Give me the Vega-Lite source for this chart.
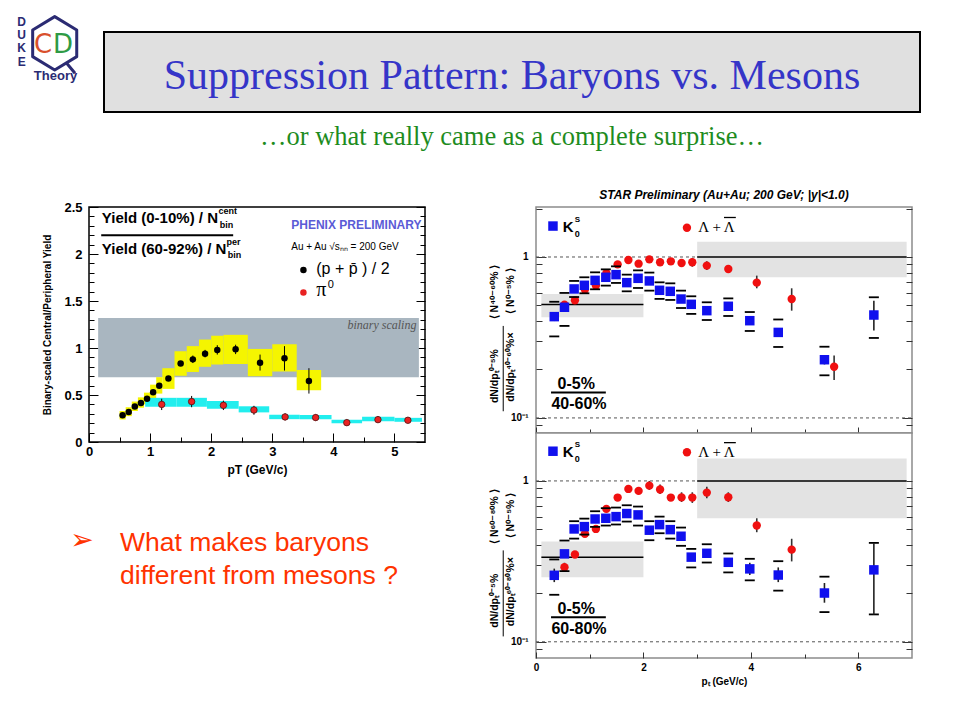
{
"$schema": "https://vega.github.io/schema/vega-lite/v6.json",
"padding": {"left": 15, "top": 15, "right": 0, "bottom": 0},
"background": "white",
"config": {
  "view": {"stroke": null},
  "font": "Liberation Sans",
  "text": {"font": "Liberation Sans"},
  "axis": {"grid": false, "domain": false, "labelFont": "Liberation Sans", "titleFont": "Liberation Sans", "labelColor": "black", "titleColor": "black", "tickColor": "black", "labelFlush": false, "labelOverlap": false, "labelFontWeight": "bold", "titleFontWeight": "bold"}
},
"datasets": {
  "phenixP": [
    {"pt":0.55,"v":0.285,"elo":0.275,"ehi":0.295,"x1":0.5,"x2":0.6,"lo":0.24,"hi":0.33},
    {"pt":0.65,"v":0.32,"elo":0.31,"ehi":0.33,"x1":0.6,"x2":0.7,"lo":0.275,"hi":0.37},
    {"pt":0.75,"v":0.377,"elo":0.367,"ehi":0.387,"x1":0.7,"x2":0.8,"lo":0.33,"hi":0.43},
    {"pt":0.85,"v":0.416,"elo":0.405,"ehi":0.427,"x1":0.8,"x2":0.9,"lo":0.365,"hi":0.475},
    {"pt":0.95,"v":0.459,"elo":0.447,"ehi":0.471,"x1":0.9,"x2":1.0,"lo":0.4,"hi":0.525},
    {"pt":1.05,"v":0.53,"elo":0.517,"ehi":0.543,"x1":1.0,"x2":1.1,"lo":0.46,"hi":0.61},
    {"pt":1.15,"v":0.598,"elo":0.583,"ehi":0.613,"x1":1.1,"x2":1.2,"lo":0.515,"hi":0.69},
    {"pt":1.3,"v":0.676,"elo":0.66,"ehi":0.692,"x1":1.2,"x2":1.4,"lo":0.565,"hi":0.785},
    {"pt":1.5,"v":0.836,"elo":0.815,"ehi":0.857,"x1":1.4,"x2":1.6,"lo":0.705,"hi":0.965},
    {"pt":1.7,"v":0.879,"elo":0.84,"ehi":0.92,"x1":1.6,"x2":1.8,"lo":0.745,"hi":1.02},
    {"pt":1.9,"v":0.94,"elo":0.9,"ehi":0.98,"x1":1.8,"x2":2.0,"lo":0.8,"hi":1.09},
    {"pt":2.1,"v":0.979,"elo":0.93,"ehi":1.03,"x1":2.0,"x2":2.2,"lo":0.825,"hi":1.13},
    {"pt":2.4,"v":0.986,"elo":0.935,"ehi":1.035,"x1":2.2,"x2":2.6,"lo":0.83,"hi":1.14},
    {"pt":2.8,"v":0.843,"elo":0.76,"ehi":0.93,"x1":2.6,"x2":3.0,"lo":0.7,"hi":0.99},
    {"pt":3.2,"v":0.89,"elo":0.76,"ehi":1.02,"x1":3.0,"x2":3.4,"lo":0.75,"hi":1.04},
    {"pt":3.6,"v":0.65,"elo":0.515,"ehi":0.785,"x1":3.4,"x2":3.8,"lo":0.55,"hi":0.765}
  ],
  "phenixPi": [
    {"pt":1.19,"v":0.40,"elo":0.34,"ehi":0.46,"x1":0.92,"x2":1.43,"lo":0.375,"hi":0.47},
    {"pt":1.68,"v":0.43,"elo":0.37,"ehi":0.49,"x1":1.43,"x2":1.93,"lo":0.375,"hi":0.47},
    {"pt":2.2,"v":0.39,"elo":0.34,"ehi":0.44,"x1":1.93,"x2":2.45,"lo":0.355,"hi":0.435},
    {"pt":2.7,"v":0.34,"elo":0.29,"ehi":0.385,"x1":2.45,"x2":2.95,"lo":0.315,"hi":0.38},
    {"pt":3.21,"v":0.267,"elo":0.23,"ehi":0.305,"x1":2.95,"x2":3.45,"lo":0.243,"hi":0.29},
    {"pt":3.71,"v":0.26,"elo":0.225,"ehi":0.295,"x1":3.45,"x2":3.97,"lo":0.243,"hi":0.287},
    {"pt":4.22,"v":0.206,"elo":0.175,"ehi":0.24,"x1":3.97,"x2":4.47,"lo":0.2,"hi":0.236},
    {"pt":4.73,"v":0.238,"elo":0.205,"ehi":0.275,"x1":4.47,"x2":5.0,"lo":0.22,"hi":0.268},
    {"pt":5.22,"v":0.231,"elo":0.2,"ehi":0.265,"x1":5.0,"x2":5.45,"lo":0.215,"hi":0.257}
  ],
  "starBand": [
    {"panel":"top","x1":0.1,"x2":2.0,"lo":0.422,"hi":0.589,"mid":0.506},
    {"panel":"top","x1":3.0,"x2":6.9,"lo":0.748,"hi":1.245,"mid":1.0},
    {"panel":"bottom","x1":0.1,"x2":2.0,"lo":0.252,"hi":0.42,"mid":0.336},
    {"panel":"bottom","x1":3.0,"x2":6.9,"lo":0.586,"hi":1.38,"mid":1.0}
  ],
  "starDash": [
    {"x1":0,"x2":3,"y":1},
    {"x1":0,"x2":7,"y":0.1}
  ],
  "starK": [
    {"panel":"top","pt":0.34,"v":0.426,"lo":0.321,"hi":0.527,"elo":0.4,"ehi":0.45},
    {"panel":"top","pt":0.53,"v":0.487,"lo":0.373,"hi":0.598},
    {"panel":"top","pt":0.71,"v":0.633,"lo":0.564,"hi":0.71},
    {"panel":"top","pt":0.9,"v":0.667,"lo":0.595,"hi":0.748},
    {"panel":"top","pt":1.1,"v":0.716,"lo":0.63,"hi":0.803},
    {"panel":"top","pt":1.3,"v":0.748,"lo":0.664,"hi":0.838},
    {"panel":"top","pt":1.49,"v":0.777,"lo":0.69,"hi":0.875},
    {"panel":"top","pt":1.69,"v":0.693,"lo":0.612,"hi":0.777},
    {"panel":"top","pt":1.9,"v":0.737,"lo":0.642,"hi":0.826},
    {"panel":"top","pt":2.11,"v":0.71,"lo":0.618,"hi":0.8},
    {"panel":"top","pt":2.3,"v":0.621,"lo":0.549,"hi":0.696},
    {"panel":"top","pt":2.5,"v":0.612,"lo":0.541,"hi":0.686},
    {"panel":"top","pt":2.7,"v":0.548,"lo":0.482,"hi":0.618},
    {"panel":"top","pt":2.89,"v":0.508,"lo":0.443,"hi":0.57},
    {"panel":"top","pt":3.18,"v":0.464,"lo":0.406,"hi":0.523},
    {"panel":"top","pt":3.58,"v":0.494,"lo":0.43,"hi":0.553},
    {"panel":"top","pt":3.98,"v":0.402,"lo":0.347,"hi":0.455},
    {"panel":"top","pt":4.51,"v":0.34,"lo":0.276,"hi":0.409},
    {"panel":"top","pt":5.37,"v":0.23,"lo":0.184,"hi":0.277,"elo":0.215,"ehi":0.245},
    {"panel":"top","pt":6.29,"v":0.436,"lo":0.314,"hi":0.562,"elo":0.349,"ehi":0.535},
    {"panel":"bottom","pt":0.34,"v":0.259,"lo":0.196,"hi":0.325,"elo":0.235,"ehi":0.285},
    {"panel":"bottom","pt":0.53,"v":0.352,"lo":0.275,"hi":0.426},
    {"panel":"bottom","pt":0.71,"v":0.503,"lo":0.438,"hi":0.562},
    {"panel":"bottom","pt":0.9,"v":0.52,"lo":0.464,"hi":0.583},
    {"panel":"bottom","pt":1.1,"v":0.58,"lo":0.518,"hi":0.648},
    {"panel":"bottom","pt":1.3,"v":0.586,"lo":0.528,"hi":0.677},
    {"panel":"bottom","pt":1.49,"v":0.6,"lo":0.536,"hi":0.683},
    {"panel":"bottom","pt":1.69,"v":0.627,"lo":0.559,"hi":0.706},
    {"panel":"bottom","pt":1.9,"v":0.615,"lo":0.528,"hi":0.693},
    {"panel":"bottom","pt":2.11,"v":0.494,"lo":0.428,"hi":0.562},
    {"panel":"bottom","pt":2.3,"v":0.535,"lo":0.473,"hi":0.6},
    {"panel":"bottom","pt":2.5,"v":0.498,"lo":0.438,"hi":0.562},
    {"panel":"bottom","pt":2.7,"v":0.453,"lo":0.395,"hi":0.513},
    {"panel":"bottom","pt":2.89,"v":0.336,"lo":0.29,"hi":0.378},
    {"panel":"bottom","pt":3.18,"v":0.355,"lo":0.311,"hi":0.404},
    {"panel":"bottom","pt":3.58,"v":0.312,"lo":0.27,"hi":0.354},
    {"panel":"bottom","pt":3.98,"v":0.284,"lo":0.241,"hi":0.328,"elo":0.26,"ehi":0.31},
    {"panel":"bottom","pt":4.51,"v":0.26,"lo":0.208,"hi":0.317,"elo":0.235,"ehi":0.29},
    {"panel":"bottom","pt":5.37,"v":0.201,"lo":0.153,"hi":0.254,"elo":0.175,"ehi":0.232},
    {"panel":"bottom","pt":6.29,"v":0.28,"lo":0.148,"hi":0.412,"elo":0.148,"ehi":0.412}
  ],
  "starL": [
    {"panel":"top","pt":0.53,"v":0.505},
    {"panel":"top","pt":0.725,"v":0.538},
    {"panel":"top","pt":0.91,"v":0.627},
    {"panel":"top","pt":1.115,"v":0.664},
    {"panel":"top","pt":1.31,"v":0.792},
    {"panel":"top","pt":1.52,"v":0.9},
    {"panel":"top","pt":1.72,"v":0.958},
    {"panel":"top","pt":1.91,"v":0.909},
    {"panel":"top","pt":2.11,"v":0.967},
    {"panel":"top","pt":2.31,"v":0.927},
    {"panel":"top","pt":2.51,"v":0.94},
    {"panel":"top","pt":2.71,"v":0.918},
    {"panel":"top","pt":2.91,"v":0.927,"elo":0.87,"ehi":0.985},
    {"panel":"top","pt":3.18,"v":0.884,"elo":0.83,"ehi":0.94},
    {"panel":"top","pt":3.58,"v":0.842},
    {"panel":"top","pt":4.11,"v":0.693,"elo":0.639,"ehi":0.766},
    {"panel":"top","pt":4.76,"v":0.548,"elo":0.464,"ehi":0.639},
    {"panel":"top","pt":5.55,"v":0.208,"elo":0.172,"ehi":0.244},
    {"panel":"bottom","pt":0.53,"v":0.291,"elo":0.275,"ehi":0.31},
    {"panel":"bottom","pt":0.725,"v":0.349},
    {"panel":"bottom","pt":0.91,"v":0.469},
    {"panel":"bottom","pt":1.115,"v":0.503},
    {"panel":"bottom","pt":1.31,"v":0.67},
    {"panel":"bottom","pt":1.52,"v":0.788},
    {"panel":"bottom","pt":1.72,"v":0.892},
    {"panel":"bottom","pt":1.91,"v":0.867,"elo":0.83,"ehi":0.9},
    {"panel":"bottom","pt":2.11,"v":0.935,"elo":0.88,"ehi":1.0},
    {"panel":"bottom","pt":2.31,"v":0.884,"elo":0.83,"ehi":0.95},
    {"panel":"bottom","pt":2.51,"v":0.788},
    {"panel":"bottom","pt":2.71,"v":0.79,"elo":0.74,"ehi":0.85},
    {"panel":"bottom","pt":2.91,"v":0.788,"elo":0.73,"ehi":0.85},
    {"panel":"bottom","pt":3.18,"v":0.846,"elo":0.78,"ehi":0.92},
    {"panel":"bottom","pt":3.58,"v":0.792,"elo":0.74,"ehi":0.85},
    {"panel":"bottom","pt":4.11,"v":0.528,"elo":0.48,"ehi":0.586},
    {"panel":"bottom","pt":4.76,"v":0.374,"elo":0.316,"ehi":0.437}
  ]
},
"spacing": 20,
"vconcat": [
 {"spacing": 23, "hconcat": [
  {"width":65,"height":97,"data":{"values":[{}]},"layer":[
    {"mark":{"type":"point","shape":"M0,-1L0.825,-0.5L0.825,0.5L0,1L-0.825,0.5L-0.825,-0.5Z M0.45,0.75L0.76,1.12","size":2852,"filled":false,"stroke":"#2b2b73","strokeWidth":3,"strokeJoin":"round","opacity":1,"xOffset":7.2,"yOffset":-20.2},"encoding":{}},
    {"mark":{"type":"text","text":"C","font":"DejaVu Sans","fontSize":26,"color":"#d9502c","align":"center","baseline":"middle","dx":-4.5,"dy":-19},"encoding":{}},
    {"mark":{"type":"text","text":"D","font":"DejaVu Sans","fontSize":26,"color":"#2e9a45","align":"center","baseline":"middle","dx":15.5,"dy":-19},"encoding":{}},
    {"mark":{"type":"text","text":["D","U","K","E"],"fontSize":12,"fontWeight":"bold","lineHeight":13.4,"color":"#2b2b73","align":"center","baseline":"top","dx":-25.8,"dy":-47},"encoding":{}},
    {"mark":{"type":"text","text":"Theory","fontSize":13,"fontWeight":"bold","color":"#2b2b73","align":"center","baseline":"middle","dx":8,"dy":12},"encoding":{}}
  ]},
  {"spacing": 0, "bounds": "flush", "vconcat": [
    {"width":816,"height":17,"data":{"values":[{}]},"mark":"text","encoding":{"text":{"value":""}}},
    {"width":816,"height":80,"view":{"fill":"#e0e0e0","stroke":"black","strokeWidth":2},"data":{"values":[{}]},
     "mark":{"type":"text","font":"Liberation Serif","fontSize":42,"color":"#3535c8","align":"center","baseline":"alphabetic","dy":17},
     "encoding":{"text":{"value":"Suppression Pattern: Baryons vs. Mesons"}}},
    {"width":816,"height":50,"data":{"values":[{}]},
     "mark":{"type":"text","font":"Liberation Serif","fontSize":26.5,"color":"#1e8c1e","align":"center","baseline":"middle"},
     "encoding":{"text":{"value":"…or what really came as a complete surprise…"}}}
  ]}
 ]},
 {"spacing": 0, "hconcat": [
  {"width":27,"height":1,"data":{"values":[{}]},"mark":"text","encoding":{"text":{"value":""}}},
  {"spacing": 62, "hconcat": [
   {"spacing": 82, "bounds": "flush", "vconcat": [
    {"width":336,"height":235,"view":{"stroke":"black","strokeWidth":1.5,"fill":"white"},
     "title":{"text":" ","fontSize":12,"fontWeight":"bold","fontStyle":"italic","font":"Liberation Sans","offset":5},
     "resolve":{"axis":{"x":"independent","y":"independent"}},
     "layer":[
      {"data":{"values":[{"x1":0.15,"x2":5.4,"lo":0.69,"hi":1.32}]},
       "mark":{"type":"rect","color":"#a9b6c0"},
       "encoding":{
         "x":{"field":"x1","type":"quantitative","scale":{"domain":[0,5.5],"nice":false,"zero":false},
              "axis":{"orient":"bottom","values":[0,1,2,3,4,5],"tickSize":-9,"labelPadding":12,"labelFontSize":13,"title":"pT (GeV/c)","titleFontSize":12,"titlePadding":6}},
         "x2":{"field":"x2"},
         "y":{"field":"lo","type":"quantitative","scale":{"domain":[0,2.5],"nice":false,"zero":false},
              "axis":{"orient":"left","values":[0,0.5,1,1.5,2,2.5],"format":"~g","tickSize":-9,"labelPadding":16,"labelFontSize":13,"title":"Binary-scaled Central/Peripheral Yield","titleFontSize":10,"titlePadding":11}},
         "y2":{"field":"hi"}}},
      {"data":{"name":"phenixP"},"mark":{"type":"rect","color":"#f5f500"},
       "encoding":{
         "x":{"field":"x1","type":"quantitative","axis":{"orient":"bottom","values":[0.5,1.5,2.5,3.5,4.5],"tickSize":-5,"labels":false,"title":null}},
         "x2":{"field":"x2"},
         "y":{"field":"lo","type":"quantitative","axis":{"orient":"left","values":[0.1,0.2,0.3,0.4,0.6,0.7,0.8,0.9,1.1,1.2,1.3,1.4,1.6,1.7,1.8,1.9,2.1,2.2,2.3,2.4],"tickSize":-5,"labels":false,"title":null}},
         "y2":{"field":"hi"}}},
      {"data":{"name":"phenixPi"},"mark":{"type":"rect","color":"#22eeee"},
       "encoding":{
         "x":{"field":"x1","type":"quantitative","axis":null},
         "x2":{"field":"x2"},
         "y":{"field":"lo","type":"quantitative","axis":{"orient":"right","values":[0,0.5,1,1.5,2,2.5],"tickSize":-9,"labels":false,"title":null}},
         "y2":{"field":"hi"}}},
      {"data":{"values":[{}]},"mark":{"type":"text","text":"binary scaling","font":"Liberation Serif","fontStyle":"italic","fontSize":12,"color":"#555555","align":"right","baseline":"alphabetic"},
       "encoding":{"x":{"datum":5.36,"type":"quantitative","axis":null},"y":{"datum":1.2,"type":"quantitative","axis":null}}},
      {"data":{"name":"phenixP"},"mark":{"type":"rule","color":"black","strokeWidth":1},
       "encoding":{
         "x":{"field":"pt","type":"quantitative","axis":null},
         "y":{"field":"elo","type":"quantitative","axis":{"orient":"right","values":[0.1,0.2,0.3,0.4,0.6,0.7,0.8,0.9,1.1,1.2,1.3,1.4,1.6,1.7,1.8,1.9,2.1,2.2,2.3,2.4],"tickSize":-5,"labels":false,"title":null}},
         "y2":{"field":"ehi"}}},
      {"data":{"name":"phenixPi"},"mark":{"type":"rule","color":"black","strokeWidth":1},
       "encoding":{
         "x":{"field":"pt","type":"quantitative","axis":null},
         "y":{"field":"elo","type":"quantitative","axis":null},
         "y2":{"field":"ehi"}}},
      {"data":{"name":"phenixP"},"mark":{"type":"circle","size":42,"color":"black","opacity":1},
       "encoding":{"x":{"field":"pt","type":"quantitative","axis":null},"y":{"field":"v","type":"quantitative","axis":null}}},
      {"data":{"name":"phenixPi"},"mark":{"type":"circle","size":42,"color":"#e82222","stroke":"#551111","strokeWidth":0.8,"opacity":1},
       "encoding":{"x":{"field":"pt","type":"quantitative","axis":null},"y":{"field":"v","type":"quantitative","axis":null}}},
      {"data":{"values":[{}]},"mark":{"type":"text","text":"Yield (0-10%) / N","fontWeight":"bold","fontSize":15,"align":"left","baseline":"alphabetic"},
       "encoding":{"x":{"datum":0.21,"type":"quantitative","axis":null},"y":{"datum":2.33,"type":"quantitative","axis":null}}},
      {"data":{"values":[{}]},"mark":{"type":"text","text":"cent","fontWeight":"bold","fontSize":9,"align":"left","baseline":"alphabetic"},
       "encoding":{"x":{"datum":2.12,"type":"quantitative","axis":null},"y":{"datum":2.43,"type":"quantitative","axis":null}}},
      {"data":{"values":[{}]},"mark":{"type":"text","text":"bin","fontWeight":"bold","fontSize":9,"align":"left","baseline":"alphabetic"},
       "encoding":{"x":{"datum":2.14,"type":"quantitative","axis":null},"y":{"datum":2.28,"type":"quantitative","axis":null}}},
      {"data":{"values":[{}]},"mark":{"type":"rule","color":"black","strokeWidth":2},
       "encoding":{"x":{"datum":0.2,"type":"quantitative","axis":null},"x2":{"datum":2.36},"y":{"datum":2.2,"type":"quantitative","axis":null}}},
      {"data":{"values":[{}]},"mark":{"type":"text","text":"Yield (60-92%) / N","fontWeight":"bold","fontSize":15,"align":"left","baseline":"alphabetic"},
       "encoding":{"x":{"datum":0.21,"type":"quantitative","axis":null},"y":{"datum":2.0,"type":"quantitative","axis":null}}},
      {"data":{"values":[{}]},"mark":{"type":"text","text":"per","fontWeight":"bold","fontSize":9,"align":"left","baseline":"alphabetic"},
       "encoding":{"x":{"datum":2.25,"type":"quantitative","axis":null},"y":{"datum":2.1,"type":"quantitative","axis":null}}},
      {"data":{"values":[{}]},"mark":{"type":"text","text":"bin","fontWeight":"bold","fontSize":9,"align":"left","baseline":"alphabetic"},
       "encoding":{"x":{"datum":2.27,"type":"quantitative","axis":null},"y":{"datum":1.96,"type":"quantitative","axis":null}}},
      {"data":{"values":[{}]},"mark":{"type":"text","text":"PHENIX PRELIMINARY","fontWeight":"bold","fontSize":12,"color":"#5b5bd6","align":"left","baseline":"alphabetic"},
       "encoding":{"x":{"datum":3.31,"type":"quantitative","axis":null},"y":{"datum":2.27,"type":"quantitative","axis":null}}},
      {"data":{"values":[{}]},"mark":{"type":"text","text":"Au + Au   √sₙₙ = 200 GeV","fontSize":10,"align":"left","baseline":"alphabetic"},
       "encoding":{"x":{"datum":3.31,"type":"quantitative","axis":null},"y":{"datum":2.04,"type":"quantitative","axis":null}}},
      {"data":{"values":[{}]},"mark":{"type":"circle","size":42,"color":"black","opacity":1},
       "encoding":{"x":{"datum":3.51,"type":"quantitative","axis":null},"y":{"datum":1.83,"type":"quantitative","axis":null}}},
      {"data":{"values":[{}]},"mark":{"type":"text","text":"(p + p̄ ) / 2","fontSize":16,"align":"left","baseline":"alphabetic"},
       "encoding":{"x":{"datum":3.72,"type":"quantitative","axis":null},"y":{"datum":1.79,"type":"quantitative","axis":null}}},
      {"data":{"values":[{}]},"mark":{"type":"circle","size":42,"color":"#e82222","opacity":1},
       "encoding":{"x":{"datum":3.51,"type":"quantitative","axis":null},"y":{"datum":1.59,"type":"quantitative","axis":null}}},
      {"data":{"values":[{}]},"mark":{"type":"text","text":"π","font":"Liberation Serif","fontSize":20,"align":"left","baseline":"alphabetic"},
       "encoding":{"x":{"datum":3.72,"type":"quantitative","axis":null},"y":{"datum":1.55,"type":"quantitative","axis":null}}},
      {"data":{"values":[{}]},"mark":{"type":"text","text":"0","fontSize":11,"align":"left","baseline":"alphabetic"},
       "encoding":{"x":{"datum":3.91,"type":"quantitative","axis":null},"y":{"datum":1.64,"type":"quantitative","axis":null}}}
     ]},
    {"width":62,"height":70,"data":{"values":[{}]},"layer":[
      {"mark":{"type":"text","text":"➢","font":"DejaVu Sans","fontSize":28,"color":"#ff3300","align":"center","baseline":"middle","dx":-38,"dy":-18},"encoding":{}},
      {"mark":{"type":"text","text":["What makes baryons","different from mesons ?"],"fontSize":26.5,"lineHeight":33,"color":"#ff3300","align":"left","baseline":"alphabetic","dy":-8},"encoding":{}}
    ]}
   ]},
   {"spacing": 0, "bounds": "flush", "vconcat": [
    {"width":376,"height":226,"view":{"stroke":"#8c8c8c","strokeWidth":1.5,"fill":"white"},
     "title":{"text":"STAR Preliminary (Au+Au; 200 GeV; |y|<1.0)","fontSize":12,"fontWeight":"bold","fontStyle":"italic","font":"Liberation Sans","offset":5,"color":"black"},
     "resolve":{"axis":{"x":"independent","y":"independent"}},
     "layer":[
      {"data":{"name":"starBand"},"transform":[{"filter":"datum.panel == 'top'"}],"mark":{"type":"rect","color":"#e3e3e3"},
       "encoding":{
         "x":{"field":"x1","type":"quantitative","scale":{"domain":[0,7],"nice":false,"zero":false},"axis":{"orient":"bottom","values":[0,2,4,6],"tickSize":-6,"labels":false,"title":null,"tickColor":"#333333"}},
         "x2":{"field":"x2"},
         "y":{"field":"lo","type":"quantitative","scale":{"type":"log","domain":[0.0806,2.045],"nice":false},"axis":{"orient":"left","values":[0.1,1],"tickSize":-10,"labelPadding":18,"labelFontSize":10,"labelExpr":"datum.value >= 1 ? '1' : '10⁻¹'","title":null,"tickColor":"#333333"}},
         "y2":{"field":"hi"}}},
      {"data":{"name":"starBand"},"transform":[{"filter":"datum.panel == 'top'"}],"mark":{"type":"rule","color":"black","strokeWidth":1.5},
       "encoding":{
         "x":{"field":"x1","type":"quantitative","axis":{"orient":"bottom","values":[1,3,5],"tickSize":-4,"labels":false,"title":null,"tickColor":"#333333"}},
         "x2":{"field":"x2"},
         "y":{"field":"mid","type":"quantitative","axis":{"orient":"left","values":[0.09,0.2,0.3,0.4,0.5,0.6,0.7,0.8,0.9,2],"tickSize":-6,"labels":false,"title":null,"tickColor":"#333333"}}}},
      {"data":{"name":"starDash"},"mark":{"type":"rule","color":"#555555","strokeWidth":1,"strokeDash":[3,3]},
       "encoding":{
         "x":{"field":"x1","type":"quantitative","axis":null},
         "x2":{"field":"x2"},
         "y":{"field":"y","type":"quantitative","axis":{"orient":"right","values":[0.1,1],"tickSize":-10,"labels":false,"title":null,"tickColor":"#333333"}}}},
      {"data":{"name":"starL"},"transform":[{"filter":"datum.panel == 'top' && isValid(datum.elo)"}],"mark":{"type":"rule","color":"#333333","strokeWidth":1.6},
       "encoding":{
         "x":{"field":"pt","type":"quantitative","axis":null},
         "y":{"field":"elo","type":"quantitative","axis":{"orient":"right","values":[0.09,0.2,0.3,0.4,0.5,0.6,0.7,0.8,0.9,2],"tickSize":-6,"labels":false,"title":null,"tickColor":"#333333"}},
         "y2":{"field":"ehi"}}},
      {"data":{"name":"starL"},"transform":[{"filter":"datum.panel == 'top'"}],"mark":{"type":"circle","size":70,"color":"#f01010","opacity":1},
       "encoding":{"x":{"field":"pt","type":"quantitative","axis":null},"y":{"field":"v","type":"quantitative","axis":null}}},
      {"data":{"name":"starK"},"transform":[{"filter":"datum.panel == 'top'"}],"mark":{"type":"tick","orient":"horizontal","size":10,"thickness":1.8,"color":"black","opacity":1},
       "encoding":{"x":{"field":"pt","type":"quantitative","axis":null},"y":{"field":"lo","type":"quantitative","axis":null}}},
      {"data":{"name":"starK"},"transform":[{"filter":"datum.panel == 'top'"}],"mark":{"type":"tick","orient":"horizontal","size":10,"thickness":1.8,"color":"black","opacity":1},
       "encoding":{"x":{"field":"pt","type":"quantitative","axis":null},"y":{"field":"hi","type":"quantitative","axis":null}}},
      {"data":{"name":"starK"},"transform":[{"filter":"datum.panel == 'top' && isValid(datum.elo)"}],"mark":{"type":"rule","color":"#222222","strokeWidth":1.6},
       "encoding":{"x":{"field":"pt","type":"quantitative","axis":null},"y":{"field":"elo","type":"quantitative","axis":null},"y2":{"field":"ehi"}}},
      {"data":{"name":"starK"},"transform":[{"filter":"datum.panel == 'top'"}],"mark":{"type":"square","size":90,"color":"#1010ee","opacity":1},
       "encoding":{"x":{"field":"pt","type":"quantitative","axis":null},"y":{"field":"v","type":"quantitative","axis":null}}},
      {"data":{"values":[{}]},"mark":{"type":"square","size":90,"color":"#1010ee","opacity":1},
       "encoding":{"x":{"datum":0.316,"type":"quantitative","axis":null},"y":{"datum":1.557,"type":"quantitative","axis":null}}},
      {"data":{"values":[{}]},"mark":{"type":"text","text":"K","fontWeight":"bold","fontSize":15,"align":"left","baseline":"alphabetic"},
       "encoding":{"x":{"datum":0.5,"type":"quantitative","axis":null},"y":{"datum":1.43,"type":"quantitative","axis":null}}},
      {"data":{"values":[{}]},"mark":{"type":"text","text":"S","fontWeight":"bold","fontSize":8,"align":"left","baseline":"alphabetic"},
       "encoding":{"x":{"datum":0.72,"type":"quantitative","axis":null},"y":{"datum":1.65,"type":"quantitative","axis":null}}},
      {"data":{"values":[{}]},"mark":{"type":"text","text":"0","fontWeight":"bold","fontSize":9,"align":"left","baseline":"alphabetic"},
       "encoding":{"x":{"datum":0.72,"type":"quantitative","axis":null},"y":{"datum":1.34,"type":"quantitative","axis":null}}},
      {"data":{"values":[{}]},"mark":{"type":"circle","size":70,"color":"#f01010","opacity":1},
       "encoding":{"x":{"datum":2.81,"type":"quantitative","axis":null},"y":{"datum":1.52,"type":"quantitative","axis":null}}},
      {"data":{"values":[{}]},"mark":{"type":"text","text":"Λ + Λ","font":"Liberation Serif","fontSize":15,"align":"left","baseline":"alphabetic"},
       "encoding":{"x":{"datum":3.02,"type":"quantitative","axis":null},"y":{"datum":1.43,"type":"quantitative","axis":null}}},
      {"data":{"values":[{}]},"mark":{"type":"rule","color":"black","strokeWidth":1.3},
       "encoding":{"x":{"datum":3.5,"type":"quantitative","axis":null},"x2":{"datum":3.72},"y":{"datum":1.76,"type":"quantitative","axis":null}}},
      {"data":{"values":[{}]},"mark":{"type":"text","text":"0-5%","fontWeight":"bold","fontSize":16,"align":"center","baseline":"alphabetic"},
       "encoding":{"x":{"datum":0.75,"type":"quantitative","axis":null},"y":{"datum":0.151,"type":"quantitative","axis":null}}},
      {"data":{"values":[{}]},"mark":{"type":"rule","color":"black","strokeWidth":2},
       "encoding":{"x":{"datum":0.28,"type":"quantitative","axis":null},"x2":{"datum":1.3},"y":{"datum":0.144,"type":"quantitative","axis":null}}},
      {"data":{"values":[{}]},"mark":{"type":"text","text":"40-60%","fontWeight":"bold","fontSize":16,"align":"center","baseline":"alphabetic"},
       "encoding":{"x":{"datum":0.8,"type":"quantitative","axis":null},"y":{"datum":0.1137,"type":"quantitative","axis":null}}},
      {"data":{"values":[{}]},"mark":{"type":"text","text":"dN/dpₜ⁰⁻⁵%","fontWeight":"bold","fontSize":10.5,"angle":270,"align":"center","baseline":"middle"},
       "encoding":{"x":{"datum":-0.76,"type":"quantitative","axis":null},"y":{"datum":0.182,"type":"quantitative","axis":null}}},
      {"data":{"values":[{}]},"mark":{"type":"text","text":"dN/dpₜ⁴⁰⁻⁶⁰%×","fontWeight":"bold","fontSize":10.5,"angle":270,"align":"center","baseline":"middle"},
       "encoding":{"x":{"datum":-0.465,"type":"quantitative","axis":null},"y":{"datum":0.207,"type":"quantitative","axis":null}}},
      {"data":{"values":[{}]},"mark":{"type":"rule","color":"black","strokeWidth":1},
       "encoding":{"x":{"datum":-0.61,"type":"quantitative","axis":null},"y":{"datum":0.11,"type":"quantitative","axis":null},"y2":{"datum":0.373}}},
      {"data":{"values":[{}]},"mark":{"type":"text","text":"⟨ N⁴⁰⁻⁶⁰% ⟩","fontWeight":"bold","fontSize":10.5,"angle":270,"align":"center","baseline":"middle"},
       "encoding":{"x":{"datum":-0.76,"type":"quantitative","axis":null},"y":{"datum":0.606,"type":"quantitative","axis":null}}},
      {"data":{"values":[{}]},"mark":{"type":"text","text":"⟨ N⁰⁻⁵% ⟩","fontWeight":"bold","fontSize":10.5,"angle":270,"align":"center","baseline":"middle"},
       "encoding":{"x":{"datum":-0.465,"type":"quantitative","axis":null},"y":{"datum":0.615,"type":"quantitative","axis":null}}}
     ]},
    {"width":376,"height":225,"view":{"stroke":"#8c8c8c","strokeWidth":1.5,"fill":"white"},
     "resolve":{"axis":{"x":"independent","y":"independent"}},
     "layer":[
      {"data":{"name":"starBand"},"transform":[{"filter":"datum.panel == 'bottom'"}],"mark":{"type":"rect","color":"#e3e3e3"},
       "encoding":{
         "x":{"field":"x1","type":"quantitative","scale":{"domain":[0,7],"nice":false,"zero":false},"axis":{"orient":"bottom","values":[0,2,4,6],"tickSize":-6,"labelPadding":10,"labelFontSize":10,"title":"pₜ (GeV/c)","titleFontSize":10,"titlePadding":4,"tickColor":"#333333"}},
         "x2":{"field":"x2"},
         "y":{"field":"lo","type":"quantitative","scale":{"type":"log","domain":[0.0793,1.986],"nice":false},"axis":{"orient":"left","values":[0.1,1],"tickSize":-10,"labelPadding":18,"labelFontSize":10,"labelExpr":"datum.value >= 1 ? '1' : '10⁻¹'","title":null,"tickColor":"#333333"}},
         "y2":{"field":"hi"}}},
      {"data":{"name":"starBand"},"transform":[{"filter":"datum.panel == 'bottom'"}],"mark":{"type":"rule","color":"black","strokeWidth":1.5},
       "encoding":{
         "x":{"field":"x1","type":"quantitative","axis":{"orient":"bottom","values":[1,3,5],"tickSize":-4,"labels":false,"title":null,"tickColor":"#333333"}},
         "x2":{"field":"x2"},
         "y":{"field":"mid","type":"quantitative","axis":{"orient":"left","values":[0.09,0.2,0.3,0.4,0.5,0.6,0.7,0.8,0.9],"tickSize":-6,"labels":false,"title":null,"tickColor":"#333333"}}}},
      {"data":{"name":"starDash"},"mark":{"type":"rule","color":"#555555","strokeWidth":1,"strokeDash":[3,3]},
       "encoding":{
         "x":{"field":"x1","type":"quantitative","axis":null},
         "x2":{"field":"x2"},
         "y":{"field":"y","type":"quantitative","axis":{"orient":"right","values":[0.1,1],"tickSize":-10,"labels":false,"title":null,"tickColor":"#333333"}}}},
      {"data":{"name":"starL"},"transform":[{"filter":"datum.panel == 'bottom' && isValid(datum.elo)"}],"mark":{"type":"rule","color":"#333333","strokeWidth":1.6},
       "encoding":{
         "x":{"field":"pt","type":"quantitative","axis":null},
         "y":{"field":"elo","type":"quantitative","axis":{"orient":"right","values":[0.09,0.2,0.3,0.4,0.5,0.6,0.7,0.8,0.9],"tickSize":-6,"labels":false,"title":null,"tickColor":"#333333"}},
         "y2":{"field":"ehi"}}},
      {"data":{"name":"starL"},"transform":[{"filter":"datum.panel == 'bottom'"}],"mark":{"type":"circle","size":70,"color":"#f01010","opacity":1},
       "encoding":{"x":{"field":"pt","type":"quantitative","axis":null},"y":{"field":"v","type":"quantitative","axis":null}}},
      {"data":{"name":"starK"},"transform":[{"filter":"datum.panel == 'bottom'"}],"mark":{"type":"tick","orient":"horizontal","size":10,"thickness":1.8,"color":"black","opacity":1},
       "encoding":{"x":{"field":"pt","type":"quantitative","axis":null},"y":{"field":"lo","type":"quantitative","axis":null}}},
      {"data":{"name":"starK"},"transform":[{"filter":"datum.panel == 'bottom'"}],"mark":{"type":"tick","orient":"horizontal","size":10,"thickness":1.8,"color":"black","opacity":1},
       "encoding":{"x":{"field":"pt","type":"quantitative","axis":null},"y":{"field":"hi","type":"quantitative","axis":null}}},
      {"data":{"name":"starK"},"transform":[{"filter":"datum.panel == 'bottom' && isValid(datum.elo)"}],"mark":{"type":"rule","color":"#222222","strokeWidth":1.6},
       "encoding":{"x":{"field":"pt","type":"quantitative","axis":null},"y":{"field":"elo","type":"quantitative","axis":null},"y2":{"field":"ehi"}}},
      {"data":{"name":"starK"},"transform":[{"filter":"datum.panel == 'bottom'"}],"mark":{"type":"square","size":90,"color":"#1010ee","opacity":1},
       "encoding":{"x":{"field":"pt","type":"quantitative","axis":null},"y":{"field":"v","type":"quantitative","axis":null}}},
      {"data":{"values":[{}]},"mark":{"type":"square","size":90,"color":"#1010ee","opacity":1},
       "encoding":{"x":{"datum":0.316,"type":"quantitative","axis":null},"y":{"datum":1.53,"type":"quantitative","axis":null}}},
      {"data":{"values":[{}]},"mark":{"type":"text","text":"K","fontWeight":"bold","fontSize":15,"align":"left","baseline":"alphabetic"},
       "encoding":{"x":{"datum":0.5,"type":"quantitative","axis":null},"y":{"datum":1.4,"type":"quantitative","axis":null}}},
      {"data":{"values":[{}]},"mark":{"type":"text","text":"S","fontWeight":"bold","fontSize":8,"align":"left","baseline":"alphabetic"},
       "encoding":{"x":{"datum":0.72,"type":"quantitative","axis":null},"y":{"datum":1.62,"type":"quantitative","axis":null}}},
      {"data":{"values":[{}]},"mark":{"type":"text","text":"0","fontWeight":"bold","fontSize":9,"align":"left","baseline":"alphabetic"},
       "encoding":{"x":{"datum":0.72,"type":"quantitative","axis":null},"y":{"datum":1.31,"type":"quantitative","axis":null}}},
      {"data":{"values":[{}]},"mark":{"type":"circle","size":70,"color":"#f01010","opacity":1},
       "encoding":{"x":{"datum":2.81,"type":"quantitative","axis":null},"y":{"datum":1.507,"type":"quantitative","axis":null}}},
      {"data":{"values":[{}]},"mark":{"type":"text","text":"Λ + Λ","font":"Liberation Serif","fontSize":15,"align":"left","baseline":"alphabetic"},
       "encoding":{"x":{"datum":3.02,"type":"quantitative","axis":null},"y":{"datum":1.4,"type":"quantitative","axis":null}}},
      {"data":{"values":[{}]},"mark":{"type":"rule","color":"black","strokeWidth":1.3},
       "encoding":{"x":{"datum":3.5,"type":"quantitative","axis":null},"x2":{"datum":3.72},"y":{"datum":1.73,"type":"quantitative","axis":null}}},
      {"data":{"values":[{}]},"mark":{"type":"text","text":"0-5%","fontWeight":"bold","fontSize":16,"align":"center","baseline":"alphabetic"},
       "encoding":{"x":{"datum":0.75,"type":"quantitative","axis":null},"y":{"datum":0.149,"type":"quantitative","axis":null}}},
      {"data":{"values":[{}]},"mark":{"type":"rule","color":"black","strokeWidth":2},
       "encoding":{"x":{"datum":0.28,"type":"quantitative","axis":null},"x2":{"datum":1.3},"y":{"datum":0.142,"type":"quantitative","axis":null}}},
      {"data":{"values":[{}]},"mark":{"type":"text","text":"60-80%","fontWeight":"bold","fontSize":16,"align":"center","baseline":"alphabetic"},
       "encoding":{"x":{"datum":0.8,"type":"quantitative","axis":null},"y":{"datum":0.112,"type":"quantitative","axis":null}}},
      {"data":{"values":[{}]},"mark":{"type":"text","text":"dN/dpₜ⁰⁻⁵%","fontWeight":"bold","fontSize":10.5,"angle":270,"align":"center","baseline":"middle"},
       "encoding":{"x":{"datum":-0.76,"type":"quantitative","axis":null},"y":{"datum":0.18,"type":"quantitative","axis":null}}},
      {"data":{"values":[{}]},"mark":{"type":"text","text":"dN/dpₜ⁶⁰⁻⁸⁰%×","fontWeight":"bold","fontSize":10.5,"angle":270,"align":"center","baseline":"middle"},
       "encoding":{"x":{"datum":-0.465,"type":"quantitative","axis":null},"y":{"datum":0.205,"type":"quantitative","axis":null}}},
      {"data":{"values":[{}]},"mark":{"type":"rule","color":"black","strokeWidth":1},
       "encoding":{"x":{"datum":-0.61,"type":"quantitative","axis":null},"y":{"datum":0.108,"type":"quantitative","axis":null},"y2":{"datum":0.37}}},
      {"data":{"values":[{}]},"mark":{"type":"text","text":"⟨ N⁶⁰⁻⁸⁰% ⟩","fontWeight":"bold","fontSize":10.5,"angle":270,"align":"center","baseline":"middle"},
       "encoding":{"x":{"datum":-0.76,"type":"quantitative","axis":null},"y":{"datum":0.6,"type":"quantitative","axis":null}}},
      {"data":{"values":[{}]},"mark":{"type":"text","text":"⟨ N⁰⁻⁵% ⟩","fontWeight":"bold","fontSize":10.5,"angle":270,"align":"center","baseline":"middle"},
       "encoding":{"x":{"datum":-0.465,"type":"quantitative","axis":null},"y":{"datum":0.61,"type":"quantitative","axis":null}}}
     ]}
   ]}
  ]}
 ]}
]
}
